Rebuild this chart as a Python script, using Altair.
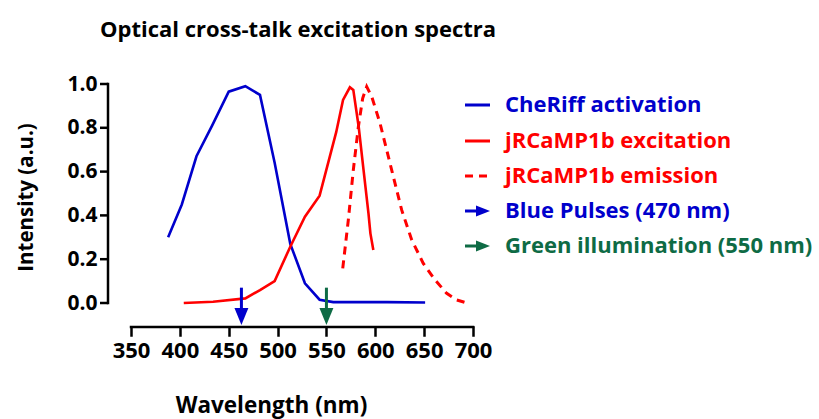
import altair as alt
import pandas as pd

# ---- data ----
cheriff_nm = [388, 402, 417, 433, 450, 467, 482, 497, 513, 528, 543, 557, 612, 651]
cheriff_int = [0.30, 0.45, 0.67, 0.81, 0.965, 0.99, 0.95, 0.64, 0.27, 0.09, 0.015, 0.004, 0.004, 0.002]

exc_nm = [404, 434, 467, 482, 497, 513, 528, 543, 560, 567, 574, 577.5, 583, 588, 593, 595, 598]
exc_int = [0.0, 0.006, 0.021, 0.059, 0.10, 0.257, 0.394, 0.49, 0.78, 0.927, 0.985, 0.973, 0.805, 0.607, 0.41, 0.318, 0.242]

em_nm = [566.7, 572.4, 577.5, 582.7, 587.1, 591.2, 596.4, 604.9, 616.8, 627, 637.3, 649.1, 661.2, 673.1, 683.4, 693.6]
em_int = [0.158, 0.379, 0.607, 0.805, 0.935, 0.988, 0.942, 0.82, 0.607, 0.425, 0.288, 0.181, 0.105, 0.044, 0.014, 0.0]

arrow_nm = [463, 550]
arrow_names = ["Blue Pulses (470 nm)", "Green illumination (550 nm)"]

legend_labels = ["CheRiff activation", "jRCaMP1b excitation", "jRCaMP1b emission",
                 "Blue Pulses (470 nm)", "Green illumination (550 nm)"]

x_ticks = [350, 400, 450, 500, 550, 600, 650, 700]
y_ticks = [0.0, 0.2, 0.4, 0.6, 0.8, 1.0]

BLUE = "#0000CC"
RED = "#FF0000"
GREEN = "#0E6B45"
FONT = "Open Sans"

# ---- layout of the x scale (plot area starts at the y-axis tick ends) ----
PLOT_W = 373
X_MIN, X_MAX = 318.27, 700
PX_PER_NM = PLOT_W / (X_MAX - X_MIN)
Y_AXIS_NM = X_MIN + 8 / PX_PER_NM      # y-axis line sits 8 px right of plot edge

# ---- tables ----
df_blue = pd.DataFrame({"nm": cheriff_nm, "v": cheriff_int})
df_exc = pd.DataFrame({"nm": exc_nm, "v": exc_int})
df_em = pd.DataFrame({"nm": em_nm, "v": em_int})
df_arrow = pd.DataFrame({"nm": arrow_nm, "name": arrow_names,
                         "top": [0.07, 0.07], "base": [-0.03, -0.03], "head": [-0.062, -0.062]})
df_yticks = pd.DataFrame({"t": y_ticks, "a": [X_MIN] * len(y_ticks), "b": [Y_AXIS_NM] * len(y_ticks)})
df_ydomain = pd.DataFrame({"nm": [Y_AXIS_NM], "lo": [y_ticks[0]], "hi": [y_ticks[-1]]})
df_xdomain = pd.DataFrame({"lo": [x_ticks[0]], "hi": [x_ticks[-1]]})

x_axis = alt.Axis(values=x_ticks, format="d", offset=24, title="Wavelength (nm)",
                  domain=False, labelFontSize=22, labelPadding=5,
                  labelOverlap=False, labelFlush=False, labelBound=False,
                  titleFontSize=22.5,
                  titleX=171, titleY=85, titleBaseline="alphabetic", titleAnchor="start",
                  titleAlign="center")
y_axis = alt.Axis(values=y_ticks, format=".1f", offset=0, title="Intensity (a.u.)",
                  labelFontSize=21, labelPadding=3,
                  labelOverlap=False, labelFlush=False, labelBound=False,
                  domain=False, ticks=False,
                  titleFontSize=20.5, titleX=-74, titleY=113, titleAlign="center",
                  titleBaseline="middle", titleAngle=270)

xs = alt.Scale(domain=[X_MIN, X_MAX], nice=False, zero=False)
ys = alt.Scale(domain=[0, 1], nice=False)


def X(field="nm"):
    return alt.X(f"{field}:Q", scale=xs, axis=x_axis)


def Y(field="v"):
    return alt.Y(f"{field}:Q", scale=ys, axis=y_axis)


# axis lines, drawn through both scales
y_domain_line = alt.Chart(df_ydomain).mark_rule(color="black", strokeWidth=2.5, strokeCap="square").encode(
    x=X("nm"), y=Y("lo"), y2="hi")
y_tick_marks = alt.Chart(df_yticks).mark_rule(color="black", strokeWidth=2.5).encode(
    x=X("a"), x2="b", y=Y("t"))
x_domain_line = alt.Chart(df_xdomain).mark_rule(color="black", strokeWidth=2.5, strokeCap="square").encode(
    x=X("lo"), x2="hi", y=alt.value(243))

blue_line = alt.Chart(df_blue).mark_line(color=BLUE, strokeWidth=2.6).encode(x=X(), y=Y())
exc_line = alt.Chart(df_exc).mark_line(color=RED, strokeWidth=2.6).encode(x=X(), y=Y())
em_line = alt.Chart(df_em).mark_line(color=RED, strokeWidth=3, strokeDash=[8, 6]).encode(x=X(), y=Y())

arrow_color = alt.Color("name:N", scale=alt.Scale(domain=arrow_names, range=[BLUE, GREEN]), legend=None)
arrow_shaft = alt.Chart(df_arrow).mark_rule(strokeWidth=3).encode(
    x=X(), y=Y("top"), y2="base", color=arrow_color)
arrow_head = alt.Chart(df_arrow).mark_point(
    shape="M-0.82,-1L0.82,-1L0,1Z", size=289, filled=True, opacity=1).encode(
    x=X(), y=Y("head"), color=arrow_color, fill=arrow_color)

layers = [y_domain_line, y_tick_marks, x_domain_line,
          blue_line, exc_line, em_line, arrow_shaft, arrow_head]

# ---- manual coloured legend ----
leg_colors = [BLUE, RED, RED, BLUE, GREEN]
row_y = [21, 57, 92, 127, 162]
for i, (lab, col) in enumerate(zip(legend_labels, leg_colors)):
    d = pd.DataFrame({"label": [lab]})
    layers.append(alt.Chart(d).mark_text(align="left", baseline="middle", font=FONT,
                                         fontWeight="bold", fontSize=22, color=col).encode(
        x=alt.value(405), y=alt.value(row_y[i]), text="label:N"))
    if i < 3:
        rule = alt.Chart(d).mark_rule(color=col, strokeWidth=3,
                                      strokeDash=[8, 6] if i == 2 else [1, 0]).encode(
            x=alt.value(365), x2=alt.value(390), y=alt.value(row_y[i]))
        layers.append(rule)
    else:
        layers.append(alt.Chart(d).mark_rule(color=col, strokeWidth=3).encode(
            x=alt.value(365), x2=alt.value(381), y=alt.value(row_y[i])))
        layers.append(alt.Chart(d).mark_point(shape="M-1,-0.8L1,0L-1,0.8Z", size=196,
                                              filled=True, opacity=1, color=col).encode(
            x=alt.value(383), y=alt.value(row_y[i])))

chart = alt.layer(*layers).properties(
    width=PLOT_W, height=219,
    background="white",
    title=alt.TitleParams("Optical cross-talk excitation spectra", anchor="start", frame="group",
                          dx=0, fontSize=22, font=FONT, fontWeight="bold", color="black",
                          offset=31),
    autosize=alt.AutoSizeParams(type="none"),
    padding={"left": 100, "top": 84, "right": 346, "bottom": 116},
).configure_view(stroke=None).configure_axis(
    grid=False, domainColor="black", domainWidth=2.5,
    tickColor="black", tickWidth=2.5, tickSize=8, labelFont=FONT, labelFontWeight="bold",
    labelColor="black", titleFont=FONT, titleFontWeight="bold", titleColor="black",
    tickCap="square")

chart.save("out.html", embed_options={"renderer": "svg", "actions": False})
